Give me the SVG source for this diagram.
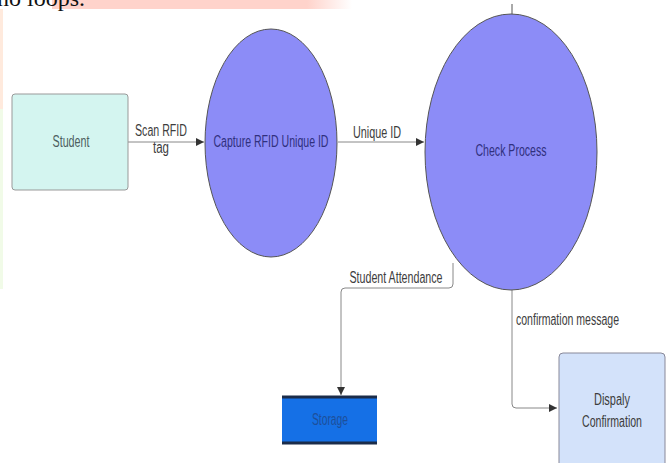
<svg xmlns="http://www.w3.org/2000/svg" width="667" height="463" viewBox="0 0 667 463">
<defs>
<marker id="arr" markerWidth="10" markerHeight="10" refX="8" refY="4" orient="auto" markerUnits="userSpaceOnUse">
<path d="M0,0 L8,4 L0,8 Z" fill="#333"/>
</marker>
<linearGradient id="pinkfade" x1="0" x2="1" y1="0" y2="0">
<stop offset="0" stop-color="#ffd3cb"/>
<stop offset="0.85" stop-color="#ffd3cb"/>
<stop offset="1" stop-color="#ffd3cb" stop-opacity="0"/>
</linearGradient>
</defs>
<style>
.lbl{font-family:"Liberation Sans",Arial,sans-serif;font-size:16px;fill:#3d3d3d;}
.proc{fill:#8c8cf7;stroke:#555;stroke-width:1;}
.ptxt{font-family:"Liberation Sans",Arial,sans-serif;font-size:16px;fill:#30307e;text-anchor:middle;}
.conn{fill:none;stroke:#888;stroke-width:1;}
</style>
<rect width="667" height="463" fill="#fff"/>
<rect x="52" y="0" width="300" height="9" fill="url(#pinkfade)"/>
<rect x="0" y="9" width="3" height="100" fill="#ffeadd"/>
<rect x="0" y="109" width="3" height="180" fill="#f1fbe8"/>
<text x="-3" y="6" font-family="Liberation Serif,serif" font-size="24" fill="#111">no loops.</text>

<g id="connectors">
<line class="conn" x1="128" y1="142" x2="204" y2="142" marker-end="url(#arr)"/>
<line class="conn" x1="338" y1="142" x2="424" y2="142" marker-end="url(#arr)"/>
<line x1="512" y1="4" x2="512" y2="15" stroke="#555" stroke-width="1"/>
<path class="conn" d="M453,263 V284 Q453,288 449,288 H345 Q341,288 341,292 V395" marker-end="url(#arr)"/>
<path class="conn" d="M512,290 V404 Q512,408 516,408 H557" marker-end="url(#arr)"/>
<text class="lbl" x="161" y="136" text-anchor="middle" textLength="52" lengthAdjust="spacingAndGlyphs">Scan RFID</text>
<text class="lbl" x="161" y="153" text-anchor="middle" textLength="16" lengthAdjust="spacingAndGlyphs">tag</text>
<text class="lbl" x="377" y="138" text-anchor="middle" textLength="48" lengthAdjust="spacingAndGlyphs">Unique ID</text>
<text class="lbl" x="396" y="283" text-anchor="middle" textLength="93" lengthAdjust="spacingAndGlyphs">Student Attendance</text>
<text class="lbl" x="516" y="325" textLength="103" lengthAdjust="spacingAndGlyphs">confirmation message</text>
</g>

<g id="student">
<rect x="12" y="94" width="116" height="96" rx="3" fill="#d4f5f0" stroke="#999" stroke-width="1"/>
<text class="lbl" x="71" y="147" text-anchor="middle" textLength="37" lengthAdjust="spacingAndGlyphs" style="fill:#4d5f5f">Student</text>
</g>

<g id="capture">
<ellipse class="proc" cx="271" cy="143" rx="66" ry="114"/>
<text class="ptxt" x="271" y="147" textLength="115" lengthAdjust="spacingAndGlyphs">Capture RFID Unique ID</text>
</g>

<g id="check">
<ellipse class="proc" cx="511" cy="152" rx="86" ry="138"/>
<text class="ptxt" x="511" y="156" textLength="71" lengthAdjust="spacingAndGlyphs">Check Process</text>
</g>

<g id="storage">
<rect x="282" y="397" width="95" height="47" fill="#1570e6"/>
<line x1="282" y1="397" x2="377" y2="397" stroke="#1b2c4a" stroke-width="3"/>
<line x1="282" y1="443" x2="377" y2="443" stroke="#1b2c4a" stroke-width="3"/>
<text class="ptxt" x="330" y="425" textLength="36" lengthAdjust="spacingAndGlyphs" style="fill:#1d4f9a">Storage</text>
</g>

<g id="display">
<rect x="559" y="353" width="106" height="120" rx="4" fill="#d3e2fa" stroke="#889" stroke-width="1"/>
<text class="lbl" x="612" y="405" text-anchor="middle" textLength="36" lengthAdjust="spacingAndGlyphs">Dispaly</text>
<text class="lbl" x="612" y="427" text-anchor="middle" textLength="60" lengthAdjust="spacingAndGlyphs">Confirmation</text>
</g>
</svg>
